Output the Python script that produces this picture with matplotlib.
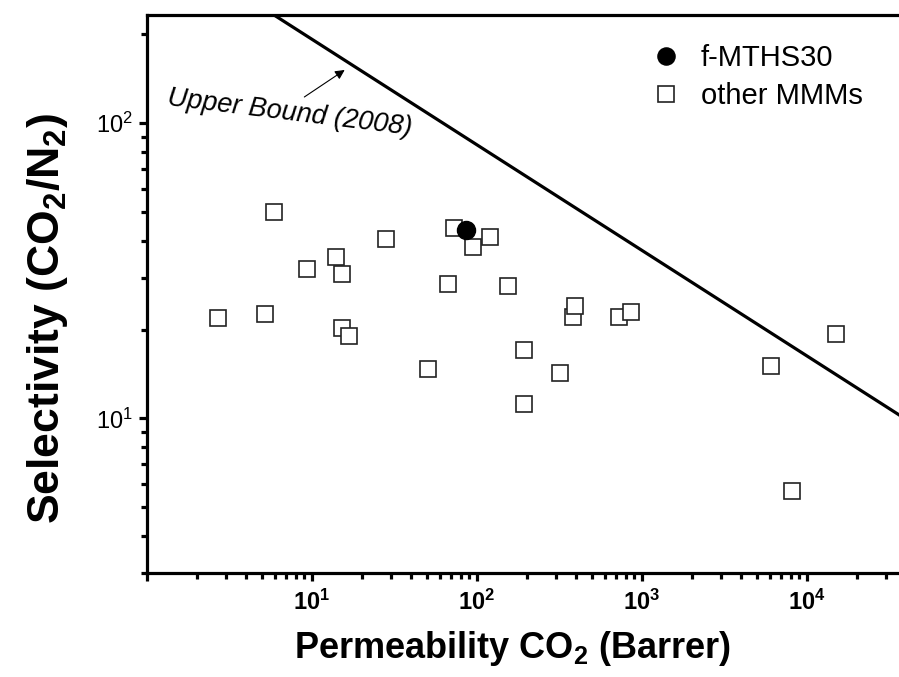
import numpy as np
import matplotlib
matplotlib.use("Agg")
import matplotlib.pyplot as plt
from matplotlib.ticker import LogLocator, FuncFormatter, NullFormatter

plt.rcParams['font.family'] = ['Liberation Sans', 'DejaVu Sans']
plt.rcParams['mathtext.fontset'] = 'custom'
plt.rcParams['mathtext.rm'] = 'Liberation Sans'
plt.rcParams['mathtext.it'] = 'Liberation Sans:italic'
plt.rcParams['mathtext.bf'] = 'Liberation Sans:bold'

# du lieu doc tu hinh
perm_mmm = np.array([2.69, 5.21, 5.86, 9.33, 14.0, 15.2, 15.1, 16.7, 28.2, 50.5,
                     67.0, 72.8, 94.6, 120.5, 154, 192, 193, 317, 384, 393,
                     726, 855, 6030, 8150, 15000])
sel_mmm = np.array([21.9, 22.6, 50.1, 32.1, 35.2, 30.8, 20.2, 19.0, 40.5, 14.7,
                    28.6, 44.2, 38.1, 41.1, 28.1, 17.0, 11.2, 14.3, 22.1, 24.0,
                    22.1, 23.0, 15.0, 5.70, 19.3])
perm_f = np.array([85.7])
sel_f = np.array([43.6])
# upper bound 2008 (hai dau mut)
ub_perm = np.array([1, 1e5])
ub_sel = np.array([437, 7.15])
xtick_show = [10, 100, 1000, 10000]

fig = plt.figure(figsize=(8.99, 6.77), dpi=100)
ax = fig.add_axes([147/899, 104/677, 825/899, 558/677])

ax.plot(ub_perm, ub_sel, color='black', lw=2.3, zorder=2)
ax.plot(perm_mmm, sel_mmm, ls='none', marker='s', ms=11.5, mfc='white',
        mec='#222222', mew=1.2, label='other MMMs', zorder=3)
ax.plot(perm_f, sel_f, ls='none', marker='o', ms=13, mfc='black',
        mec='black', label='f-MTHS30', zorder=4)

ax.set_xscale('log')
ax.set_yscale('log')
ax.set_xlim(1, 1e5)
ax.set_ylim(3, 232)


def fmt_x(v, p):
    if round(v) not in xtick_show:
        return ''
    return r'$\mathbf{10^{%d}}$' % round(np.log10(v))


ax.xaxis.set_major_locator(LogLocator(base=10))
ax.xaxis.set_minor_locator(LogLocator(base=10, subs=np.arange(2, 10)))
ax.yaxis.set_major_locator(LogLocator(base=10))
ax.yaxis.set_minor_locator(LogLocator(base=10, subs=np.arange(2, 10)))
ax.xaxis.set_major_formatter(FuncFormatter(fmt_x))
ax.yaxis.set_major_formatter(FuncFormatter(lambda v, p: r'$\mathrm{10^{%d}}$' % round(np.log10(v))))
ax.xaxis.set_minor_formatter(NullFormatter())
ax.yaxis.set_minor_formatter(NullFormatter())

for s in ax.spines.values():
    s.set_linewidth(2.3)
ax.spines['right'].set_visible(False)
ax.tick_params(which='major', direction='out', length=6, width=2.3, pad=6)
ax.tick_params(which='minor', direction='out', length=4, width=2.3)
ax.tick_params(axis='x', labelsize=17)
ax.tick_params(axis='y', labelsize=17, pad=4)

ax.set_xlabel(r'Permeability CO$_\mathbf{2}$ (Barrer)', fontsize=26, fontweight='bold')
ax.set_ylabel(r'Selectivity (CO$_\mathbf{2}$/N$_\mathbf{2}$)', fontsize=32, fontweight='bold')
ax.xaxis.set_label_coords((513 - 147) / 825, -0.1)
ax.yaxis.set_label_coords(-(147 - 70) / 825, (573 - 318) / 558)

ax.annotate('', xy=(16.3, 153), xytext=(8.7, 121),
            arrowprops=dict(arrowstyle='-|>', color='black', lw=0.8, mutation_scale=14))
ax.text(7.3, 108, 'Upper Bound (2008)', fontsize=19.5, style='italic', rotation=-7,
        ha='center', va='center')

handles, labels = ax.get_legend_handles_labels()
leg = ax.legend(handles[::-1], labels[::-1], loc='upper left', bbox_to_anchor=((622 - 147) / 825, 0.995),
                frameon=False, fontsize=21, handletextpad=0.6, labelspacing=0.35,
                handlelength=1.2, markerscale=0.95)

fig.savefig('out.png', dpi=100)
